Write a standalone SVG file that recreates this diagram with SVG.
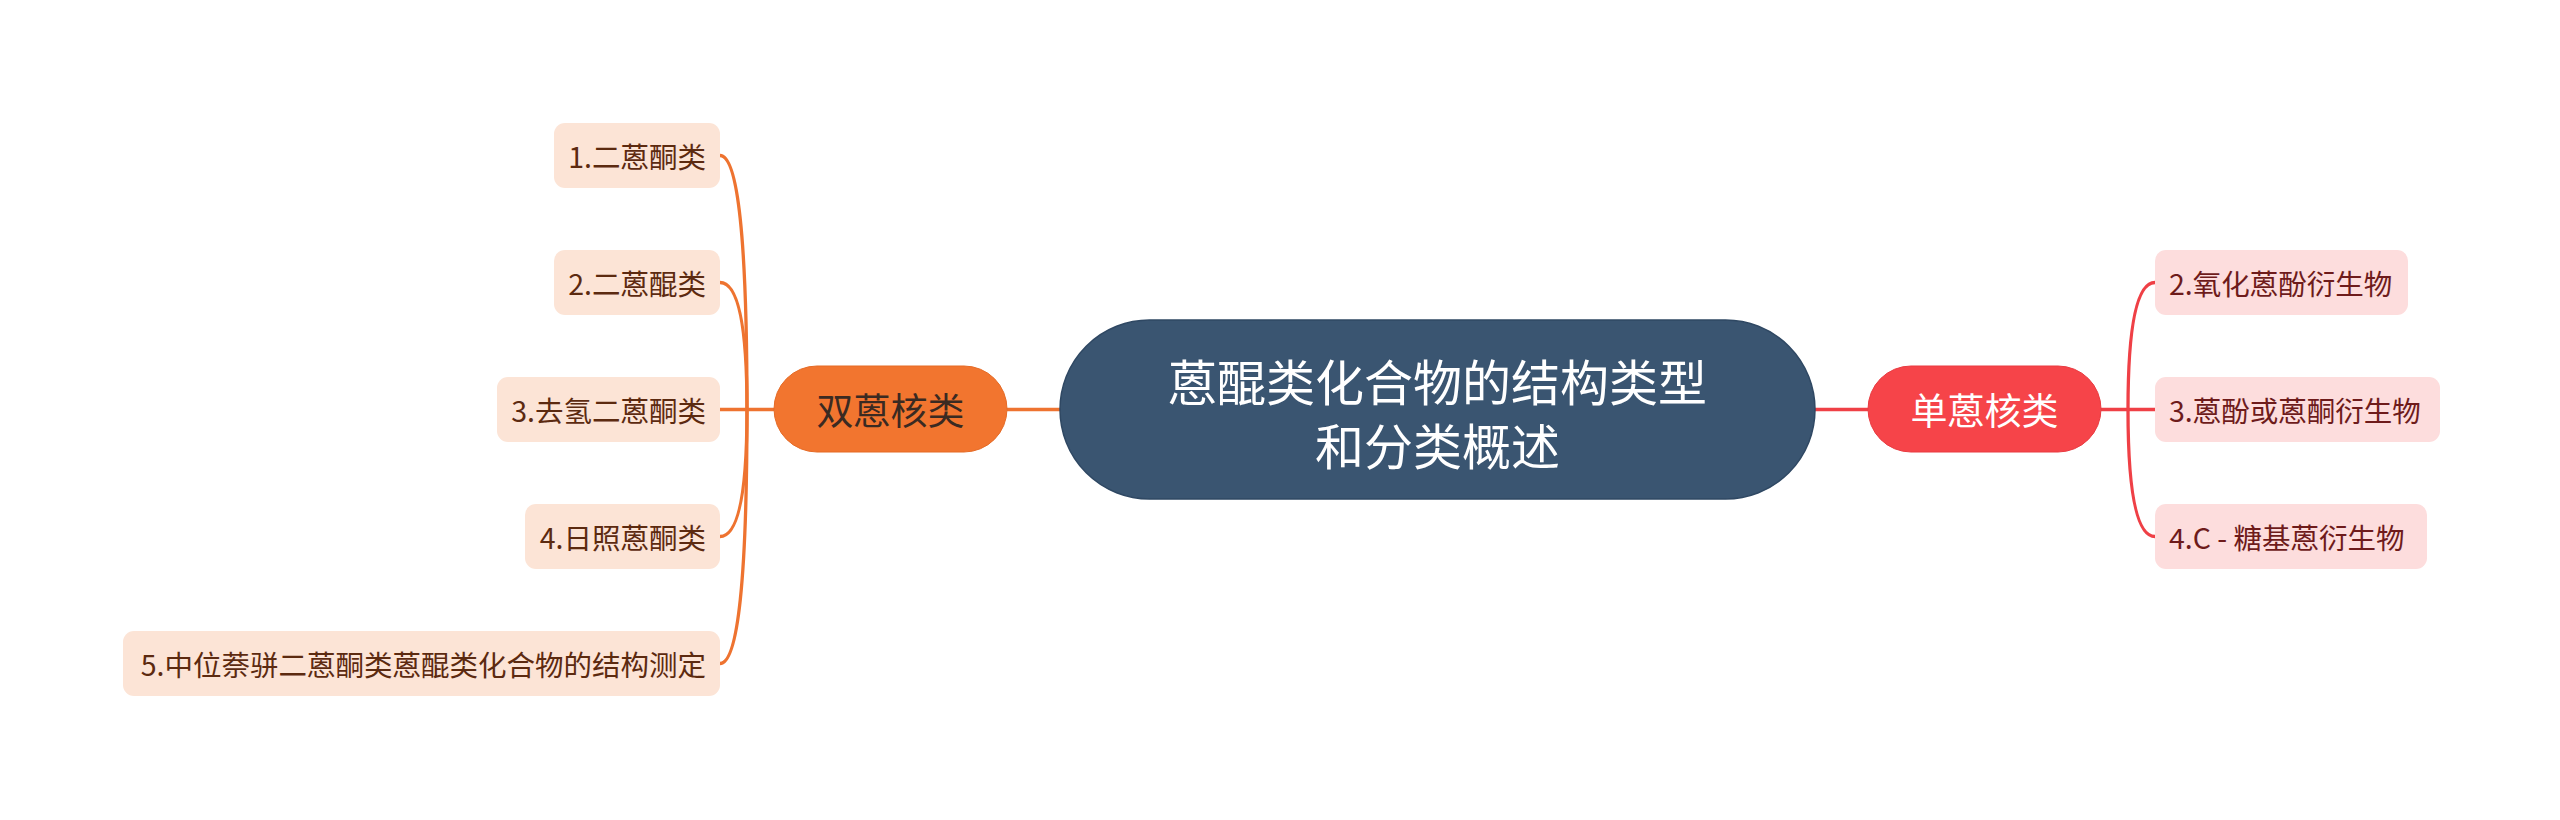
<svg xmlns="http://www.w3.org/2000/svg" width="2560" height="820" viewBox="0 0 2560 820">
<style>
text{font-family:"Noto Sans CJK SC","Noto Sans",sans-serif;dominant-baseline:central}
.lf{fill:#FCE4D6}
.rf{fill:#FDDDDD}
.lt{font-size:28.5px;fill:#5C2A10;text-anchor:end}
.rt{font-size:28.5px;fill:#6E1B1B;text-anchor:start}
.oc{fill:none;stroke:#EE7330;stroke-width:3.3}
.rc{fill:none;stroke:#EF4046;stroke-width:3.3}
</style>
<rect width="2560" height="820" fill="#FFFFFF"/>
<g id="connectors">
<path class="oc" d="M1060 409.5 L1007 409.5"/>
<path class="oc" d="M774 409.5 L720 409.5"/>
<path class="oc" d="M747 409.5 Q747 155.5 720 155.5"/>
<path class="oc" d="M747 409.5 Q747 282.5 720 282.5"/>
<path class="oc" d="M747 409.5 Q747 536.5 720 536.5"/>
<path class="oc" d="M747 409.5 Q747 663.5 720 663.5"/>
<path class="rc" d="M1815 409.5 L1868 409.5"/>
<path class="rc" d="M2101 409.5 L2155 409.5"/>
<path class="rc" d="M2128 409.5 Q2128 282.5 2155 282.5"/>
<path class="rc" d="M2128 409.5 Q2128 536.5 2155 536.5"/>
</g>
<g id="root">
<rect x="1060" y="320" width="755" height="179" rx="89.5" fill="#3A5571" stroke="#2F4863" stroke-width="1.5"/>
<text x="1437.5" y="379" font-size="49" fill="#FFFFFF" text-anchor="middle">蒽醌类化合物的结构类型</text>
<text x="1437.5" y="443" font-size="49" fill="#FFFFFF" text-anchor="middle">和分类概述</text>
</g>
<g id="b-left">
<rect x="774" y="366" width="233" height="86" rx="43" fill="#F2752F" stroke="#E56A25" stroke-width="1"/>
<text x="890.5" y="409" font-size="37" fill="#3A2A22" text-anchor="middle">双蒽核类</text>
</g>
<g id="b-right">
<rect x="1868" y="366" width="233" height="86" rx="43" fill="#F64449" stroke="#E93A40" stroke-width="1"/>
<text x="1984.5" y="409" font-size="37" fill="#FFFFFF" text-anchor="middle">单蒽核类</text>
</g>
<g id="l1"><rect class="lf" x="554" y="123" width="166" height="65" rx="11"/><text class="lt" x="706" y="155.5">1.二蒽酮类</text></g>
<g id="l2"><rect class="lf" x="554" y="250" width="166" height="65" rx="11"/><text class="lt" x="706" y="282.5">2.二蒽醌类</text></g>
<g id="l3"><rect class="lf" x="497" y="377" width="223" height="65" rx="11"/><text class="lt" x="706" y="409.5">3.去氢二蒽酮类</text></g>
<g id="l4"><rect class="lf" x="525" y="504" width="195" height="65" rx="11"/><text class="lt" x="706" y="536.5">4.日照蒽酮类</text></g>
<g id="l5"><rect class="lf" x="123" y="631" width="597" height="65" rx="11"/><text class="lt" x="706" y="663.5">5.中位萘骈二蒽酮类蒽醌类化合物的结构测定</text></g>
<g id="r1"><rect class="rf" x="2155" y="250" width="253" height="65" rx="11"/><text class="rt" x="2169" y="282.5">2.氧化蒽酚衍生物</text></g>
<g id="r2"><rect class="rf" x="2155" y="377" width="285" height="65" rx="11"/><text class="rt" x="2169" y="409.5">3.蒽酚或蒽酮衍生物</text></g>
<g id="r3"><rect class="rf" x="2155" y="504" width="272" height="65" rx="11"/><text class="rt" x="2169" y="536.5">4.C - 糖基蒽衍生物</text></g>
</svg>
